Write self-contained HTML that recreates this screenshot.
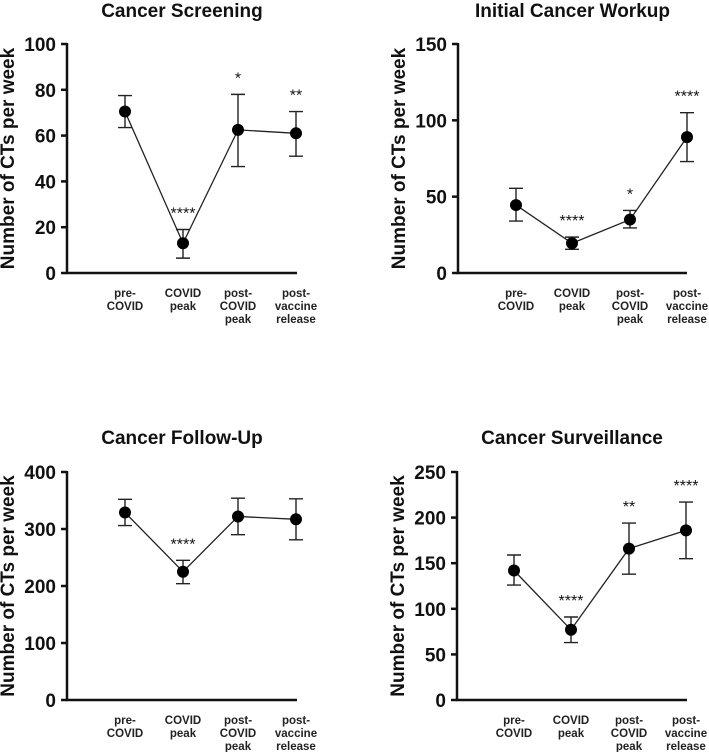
<!DOCTYPE html>
<html><head><meta charset="utf-8"><style>
html,body{margin:0;padding:0;background:#fff;}
svg{display:block;font-family:"Liberation Sans",Arial,sans-serif;}
</style></head><body>
<svg id="fig" width="709" height="752" viewBox="0 0 709 752"></svg>
<script>
const categories = ["pre-|COVID","COVID|peak","post-|COVID|peak","post-|vaccine|release"];
const titles = ["Cancer Screening","Initial Cancer Workup","Cancer Follow-Up","Cancer Surveillance"];
const yMaxes = [100,150,400,250];
const yTicks1 = [0,20,40,60,80,100];
const yTicks2 = [0,50,100,150];
const yTicks3 = [0,100,200,300,400];
const yTicks4 = [0,50,100,150,200,250];
const means1 = [70.5,13,62.5,61];
const lo1 = [63.5,6.5,46.5,51];
const hi1 = [77.5,19,78,70.5];
const stars1 = ["","****","*","**"];
const means2 = [44.5,19.5,35,89];
const lo2 = [34,15.5,29.5,73];
const hi2 = [55.5,23.5,41,105];
const stars2 = ["","****","*","****"];
const means3 = [329,225,322,317];
const lo3 = [306,204,290,281];
const hi3 = [352,245,354,353];
const stars3 = ["","****","",""];
const means4 = [142,77,166,186];
const lo4 = [126,63,138,155];
const hi4 = [159,91,194,217];
const stars4 = ["","****","**","****"];

const NS="http://www.w3.org/2000/svg";
const svg=document.getElementById('fig');
function mk(tag,attrs,parent){const e=document.createElementNS(NS,tag);for(const k in attrs)e.setAttribute(k,attrs[k]);(parent||svg).appendChild(e);return e;}

const panels=[
 {ax:67,top:44,bot:273,end:297,xs:[125,183,238,296],ty:17,ticks:yTicks1,m:means1,lo:lo1,hi:hi1,st:stars1},
 {ax:458,top:44,bot:273,end:687,xs:[516,572,630,687],ty:17,ticks:yTicks2,m:means2,lo:lo2,hi:hi2,st:stars2},
 {ax:67,top:472,bot:700,end:297,xs:[125,183,238,296],ty:444,ticks:yTicks3,m:means3,lo:lo3,hi:hi3,st:stars3},
 {ax:457,top:472,bot:700,end:687,xs:[514,571,629,686],ty:444,ticks:yTicks4,m:means4,lo:lo4,hi:hi4,st:stars4}
];

panels.forEach((p,i)=>{
  const g=mk('g',{});
  
  
  const ymax=yMaxes[i];
  const y=v=>p.bot-(v/ymax)*(p.bot-p.top);
  const t=mk('text',{x:(p.ax+p.end)/2,y:p.ty,'text-anchor':'middle','font-size':19,'font-weight':'bold',fill:'#111'},g);
  t.textContent=titles[i];
  
  
  const yt=mk('text',{transform:`translate(${p.ax-53},${(p.top+p.bot)/2}) rotate(-90)`,'text-anchor':'middle','font-size':19,'font-weight':'bold',fill:'#111'},g);
  yt.textContent='Number of CTs per week';
  
  
  const axl=mk('path',{d:`M${p.ax},${p.top-1}V${p.bot}H${p.end}`,stroke:'#111','stroke-width':2.5,fill:'none'},g);
  
  
  p.ticks.forEach(v=>{
    mk('line',{x1:p.ax-6,x2:p.ax,y1:y(v),y2:y(v),stroke:'#111','stroke-width':2.5},g);
    const tl=mk('text',{x:p.ax-11,y:y(v)+7,'text-anchor':'end','font-size':19,'font-weight':'bold',fill:'#111',textLength:null},g);
    tl.removeAttribute('textLength');
    tl.textContent=v;
    
    
  });
  categories.forEach((c,j)=>{
    const ct=mk('text',{x:p.xs[j],'text-anchor':'middle','font-size':11.5,'font-weight':'bold',fill:'#222'},g);
    
    
    c.split('|').forEach((s,k)=>{const ts=mk('tspan',{x:p.xs[j],y:p.bot+24+k*13},ct);ts.textContent=s;});
  });
  const d=p.m.map((v,j)=>(j?'L':'M')+p.xs[j]+','+y(v)).join('');
  const ln=mk('path',{d:d,stroke:'#222','stroke-width':1.3,fill:'none'},g);
  
  
  p.m.forEach((v,j)=>{
    const x=p.xs[j];
    const eb=mk('path',{d:`M${x-7},${y(p.hi[j])}H${x+7}M${x},${y(p.hi[j])}V${y(p.lo[j])}M${x-7},${y(p.lo[j])}H${x+7}`,stroke:'#222','stroke-width':1.4,fill:'none'},g);
    
    
    const pt=mk('circle',{cx:x,cy:y(v),r:6,fill:'#000'},g);
    
    
    if(p.st[j]){
      const s=mk('text',{x:x,y:y(p.hi[j])-11,'text-anchor':'middle','font-size':16,fill:'#111'},g);
      s.textContent=p.st[j];
      
      
    }
  });
});
</script>
</body></html>
